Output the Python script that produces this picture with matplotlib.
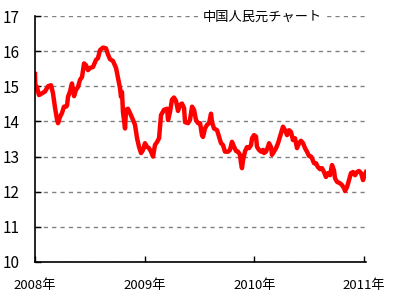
import matplotlib
matplotlib.use("Agg")
import matplotlib.pyplot as plt

plt.rcParams['font.family'] = ['Noto Sans CJK JP', 'DejaVu Sans']

title = "中国人民元チャート"
x_tick_pos = [2008, 2009, 2010, 2011]
x_tick_labels = ["2008年", "2009年", "2010年", "2011年"]
y_ticks = [10, 11, 12, 13, 14, 15, 16, 17]

# years since 2008-01-01
t = [0.000, 0.002, 0.009, 0.018, 0.036, 0.064, 0.091, 0.119, 0.146, 0.164, 0.182, 0.201, 0.210,
     0.228, 0.246, 0.264, 0.283, 0.292, 0.301, 0.319, 0.337, 0.346, 0.356, 0.374, 0.392, 0.410,
     0.429, 0.447, 0.465, 0.483, 0.502, 0.529, 0.556, 0.574, 0.593, 0.620, 0.647, 0.666, 0.684,
     0.711, 0.739, 0.757, 0.775, 0.784, 0.793, 0.802, 0.821, 0.830, 0.848, 0.866, 0.894, 0.912,
     0.930, 0.948, 0.967, 0.985, 1.003, 1.021, 1.039, 1.058, 1.076, 1.094, 1.112, 1.131, 1.149,
     1.176, 1.204, 1.213, 1.231, 1.249, 1.267, 1.286, 1.304, 1.322, 1.340, 1.359, 1.368, 1.395,
     1.413, 1.432, 1.450, 1.468, 1.486, 1.505, 1.523, 1.532, 1.550, 1.568, 1.587, 1.605, 1.614,
     1.632, 1.660, 1.678, 1.696, 1.714, 1.732, 1.760, 1.778, 1.796, 1.815, 1.833, 1.851, 1.869,
     1.878, 1.887, 1.897, 1.915, 1.933, 1.951, 1.970, 1.979, 1.997, 2.015, 2.024, 2.042, 2.061,
     2.079, 2.088, 2.106, 2.125, 2.134, 2.152, 2.161, 2.179, 2.198, 2.216, 2.234, 2.252, 2.261,
     2.280, 2.298, 2.316, 2.334, 2.352, 2.371, 2.389, 2.407, 2.425, 2.444, 2.462, 2.480, 2.498,
     2.517, 2.526, 2.544, 2.562, 2.580, 2.599, 2.617, 2.635, 2.653, 2.672, 2.690, 2.708, 2.726,
     2.735, 2.754, 2.781, 2.799, 2.818, 2.827, 2.845, 2.863, 2.881, 2.900, 2.918, 2.936, 2.954,
     2.973, 2.991, 3.000, 3.018]
rate = [15.35, 15.10, 14.95, 14.98, 14.75, 14.80, 14.85, 15.00, 15.03, 14.80, 14.40, 14.05, 13.95,
        14.13, 14.24, 14.42, 14.42, 14.45, 14.70, 14.85, 15.08, 14.90, 14.72, 14.90, 14.98, 15.18,
        15.27, 15.65, 15.60, 15.46, 15.52, 15.55, 15.75, 15.80, 16.03, 16.10, 16.08, 15.90, 15.77,
        15.72, 15.52, 15.24, 14.95, 14.70, 14.84, 14.27, 13.80, 14.33, 14.36, 14.24, 14.04, 13.90,
        13.53, 13.28, 13.10, 13.19, 13.38, 13.28, 13.24, 13.14, 13.00, 13.33, 13.41, 13.52, 14.18,
        14.33, 14.36, 14.04, 14.27, 14.62, 14.68, 14.58, 14.30, 14.47, 14.51, 14.38, 13.98, 13.95,
        14.04, 14.42, 14.33, 14.04, 13.95, 13.95, 13.60, 13.56, 13.80, 13.90, 13.95, 14.22, 13.98,
        13.80, 13.75, 13.56, 13.38, 13.33, 13.14, 13.14, 13.19, 13.42, 13.28, 13.16, 13.14, 13.05,
        12.82, 12.67, 12.90, 13.15, 13.27, 13.24, 13.33, 13.52, 13.61, 13.57, 13.28, 13.19, 13.14,
        13.19, 13.10, 13.14, 13.28, 13.38, 13.27, 13.05, 13.14, 13.24, 13.38, 13.57, 13.75, 13.85,
        13.75, 13.61, 13.75, 13.70, 13.47, 13.52, 13.24, 13.38, 13.45, 13.38, 13.24, 13.14, 13.02,
        13.00, 12.95, 12.81, 12.81, 12.70, 12.64, 12.67, 12.56, 12.42, 12.53, 12.47, 12.76, 12.61,
        12.39, 12.28, 12.24, 12.19, 12.10, 12.02, 12.13, 12.33, 12.53, 12.56, 12.47, 12.56, 12.59,
        12.53, 12.33, 12.42, 12.56]

years = [2008 + v for v in t]

fig = plt.figure(figsize=(3.97, 3.0), dpi=100)
ax = fig.add_axes([35/397, 1 - 262/300, (366 - 35)/397, (262 - 16)/300])

ax.plot(years, rate, color='#ff0000', linewidth=3.2, solid_joinstyle='round')

ax.set_xlim(2008, 2011.018)
ax.set_ylim(10, 17)
ax.set_yticks(y_ticks)
ax.set_xticks(x_tick_pos)
ax.set_xticklabels(x_tick_labels)
for sp in ['top', 'right']:
    ax.spines[sp].set_visible(False)
for sp in ['left', 'bottom']:
    ax.spines[sp].set_color('black')
    ax.spines[sp].set_linewidth(1.2)
ax.yaxis.grid(True, linestyle=(0, (3, 3)), color='#808080', linewidth=1.0)
ax.set_axisbelow(True)
ax.tick_params(axis='both', direction='in', length=4, width=1, colors='black')
ax.tick_params(axis='x', pad=12, labelsize=9.5)
ax.tick_params(axis='y', pad=11, labelsize=11)

ax.text(203/397, 1 - 17/300, title, transform=fig.transFigure, fontsize=9.5,
        ha='left', va='center', color='black',
        bbox=dict(facecolor='white', edgecolor='none', pad=1.5))

fig.savefig('out.png', dpi=100)
